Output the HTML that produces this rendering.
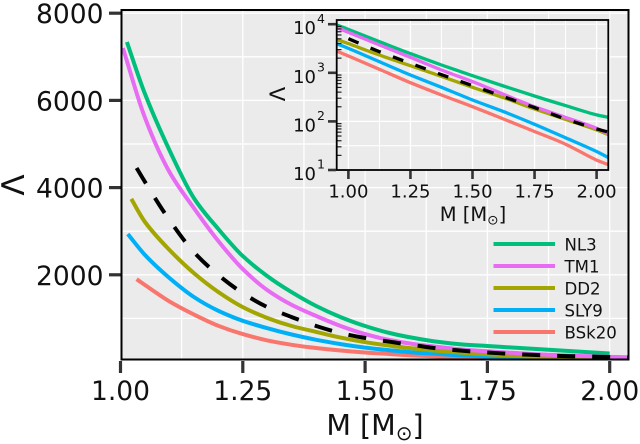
<!DOCTYPE html>
<html>
<head>
<meta charset="utf-8">
<title>Tidal deformability vs mass</title>
<style>
html,body{margin:0;padding:0;background:#fff;}
svg{display:block;}
text{font-family:"DejaVu Sans",sans-serif;fill:#111;}
</style>
</head>
<body>
<svg id="chart" width="640" height="444" viewBox="0 0 640 444" xmlns="http://www.w3.org/2000/svg">
  <defs>
    <clipPath id="main-clip"><rect x="121.5" y="10" width="507" height="349.5"/></clipPath>
    <clipPath id="inset-clip"><rect x="336.7" y="20" width="271.6" height="150"/></clipPath>
  </defs>
  <g id="main-plot"></g>
  <g id="inset-plot"></g>
  <g id="legend"></g>
</svg>
<script>
// Shared series names and colours
const seriesNames = ['NL3', 'TM1', 'DD2', 'SLY9', 'BSk20'];
const seriesColors = ['#00BF7D', '#E76BF3', '#A3A500', '#00B0F6', '#F8766D'];
const drawOrder = ['BSk20', 'SLY9', 'DD2', 'NL3', 'TM1', 'Reference'];

// Main panel data
const mainMass = [1.05, 1.10, 1.15, 1.20, 1.25, 1.30, 1.35, 1.40, 1.45, 1.50, 1.55, 1.60, 1.65, 1.70, 1.75, 1.80, 1.85, 1.90, 1.95, 2.00, 2.05];
const mainNL3 = [6150, 4860, 3760, 3050, 2430, 1970, 1600, 1285, 1030, 825, 665, 550, 460, 401, 367, 333, 298, 264, 230, 195, null];
const mainTM1 = [5600, 4360, 3530, 2775, 2130, 1650, 1310, 1055, 825, 640, 505, 410, 345, 285, 245, 210, 180, 155, 135, 118, 105];
const mainDD2 = [3210, 2570, 2040, 1605, 1260, 1010, 825, 690, 560, 455, 375, 310, 255, 213, 178, 145, 120, 100, 83, 68, 55];
const mainSLY9 = [2454, 1927, 1490, 1175, 945, 775, 630, 510, 410, 330, 270, 218, 183, 150, 126, 110, 92, 80, 69, 60, 50];
const mainBSk20 = [1766, 1390, 1090, 830, 640, 495, 395, 320, 264, 218, 183, 150, 126, 103, 92, 80, 70, 60, 50, 40, 30];
const mainReference = [4130, 3257, 2520, 1995, 1580, 1260, 1030, 825, 665, 550, 465, 385, 310, 258, 218, 183, 160, 138, 126, 115, 103];
const mainStartMass = { NL3: 1.013, TM1: 1.005, DD2: 1.022, SLY9: 1.015, BSk20: 1.033, Reference: 1.033 };
const mainStartValue = { NL3: 7340, TM1: 7200, DD2: 3740, SLY9: 2935, BSk20: 1900, Reference: 4450 };
const mainXTicks = [1.00, 1.25, 1.50, 1.75, 2.00];
const mainYTicks = [2000, 4000, 6000, 8000];

// Inset panel data
const insetMass = [0.95, 1.00, 1.125, 1.25, 1.375, 1.50, 1.625, 1.75, 1.875, 2.00, 2.05];
const insetNL3 = [9770, 7830, 4370, 2480, 1450, 873, 535, 333, 211, 136, 121];
const insetTM1 = [8630, 6810, 3730, 2080, 1140, 658, 361, 201, 121, 72, 55];
const insetDD2 = [4890, 3980, 2320, 1400, 845, 502, 308, 180, 110, 67, 53];
const insetSLY9 = [4030, 3180, 1690, 902, 502, 276, 159, 87, 46, 24, 17.7];
const insetBSk20 = [2850, 2220, 1180, 627, 349, 201, 112, 62, 34, 16, 12.7];
const insetReference = [null, 5040, 2720, 1570, 916, 544, 323, 192, 112, 70, 60];
const insetXTicks = [1.00, 1.25, 1.50, 1.75, 2.00];
const insetYTicks = [10, 100, 1000, 10000];
const insetMinorFactors = [2, 3, 4, 5, 6, 7, 8, 9];

const mainSeries = { NL3: mainNL3, TM1: mainTM1, DD2: mainDD2, SLY9: mainSLY9, BSk20: mainBSk20, Reference: mainReference };
const insetSeries = { NL3: insetNL3, TM1: insetTM1, DD2: insetDD2, SLY9: insetSLY9, BSk20: insetBSk20, Reference: insetReference };

// Axis functions
function mainX(m) { return 120.5 + (m - 1) * 489.2; }
function mainY(v) { return 362 - v * 0.0436; }
function insetX(m) { return 348.4 + (m - 1) * 248.2; }
function insetY(v) { return 170 - (Math.log10(v) - 1) * 48.6; }

const SVGNS = 'http://www.w3.org/2000/svg';
function make(parent, tag, attrs, txt) {
  const el = document.createElementNS(SVGNS, tag);
  for (const k in attrs) el.setAttribute(k, attrs[k]);
  if (txt !== undefined) el.textContent = txt;
  parent.appendChild(el);
  return el;
}
function colorOf(name) {
  const i = seriesNames.indexOf(name);
  return i < 0 ? '#000000' : seriesColors[i];
}
// Monotone cubic curve through the given pixel points
function smoothPath(pts) {
  const n = pts.length;
  const sl = [];
  for (let i = 0; i < n - 1; i++) sl.push((pts[i + 1][1] - pts[i][1]) / (pts[i + 1][0] - pts[i][0]));
  const tan = [sl[0]];
  for (let i = 1; i < n - 1; i++) {
    tan.push(sl[i - 1] * sl[i] <= 0 ? 0 : 2 * sl[i - 1] * sl[i] / (sl[i - 1] + sl[i]));
  }
  tan.push(sl[n - 2]);
  let d = 'M' + pts[0][0].toFixed(1) + ' ' + pts[0][1].toFixed(1);
  for (let i = 0; i < n - 1; i++) {
    const h = (pts[i + 1][0] - pts[i][0]) / 3;
    d += 'C' + (pts[i][0] + h).toFixed(1) + ' ' + (pts[i][1] + tan[i] * h).toFixed(1) + ' ' +
      (pts[i + 1][0] - h).toFixed(1) + ' ' + (pts[i + 1][1] - tan[i + 1] * h).toFixed(1) + ' ' +
      pts[i + 1][0].toFixed(1) + ' ' + pts[i + 1][1].toFixed(1);
  }
  return d;
}

const mainG = document.getElementById('main-plot');
const insetG = document.getElementById('inset-plot');
const legendG = document.getElementById('legend');
let el;

// ---------- Main panel ----------
el = make(mainG, 'rect', { x: 121.5, y: 10, width: 507, height: 349.5, fill: '#EBEBEB' });



const mainXStep = mainXTicks[1] - mainXTicks[0];
const mainXGrid = [];
mainXTicks.forEach(function (t) { mainXGrid.push(t); mainXGrid.push(t + mainXStep / 2); });
mainXGrid.forEach(function (t) {
  if (mainX(t) > 628) return;
  const line = make(mainG, 'line', { x1: mainX(t), x2: mainX(t), y1: 10, y2: 359.5, stroke: '#fff', 'stroke-width': 1.3 });
  
  
});
const mainYStep = mainYTicks[1] - mainYTicks[0];
const mainYGrid = [];
mainYTicks.forEach(function (t) { mainYGrid.push(t); mainYGrid.push(t - mainYStep / 2); });
mainYGrid.forEach(function (t) {
  const line = make(mainG, 'line', { x1: 121.5, x2: 628.5, y1: mainY(t), y2: mainY(t), stroke: '#fff', 'stroke-width': 1.3 });
  
  
});

const mainLines = make(mainG, 'g', { 'clip-path': 'url(#main-clip)' });


drawOrder.forEach(function (name) {
  const pts = [[mainX(mainStartMass[name]), mainY(mainStartValue[name])]];
  mainSeries[name].forEach(function (v, i) {
    if (v !== null) pts.push([mainX(mainMass[i]), mainY(v)]);
  });
  const attrs = {
    d: smoothPath(pts),
    fill: 'none', stroke: colorOf(name), 'stroke-width': 4, 'stroke-linejoin': 'round'
  };
  if (name === 'Reference') attrs['stroke-dasharray'] = '18 17';
  const line = make(mainLines, 'path', attrs);
  
  
});

el = make(mainG, 'rect', { x: 121.5, y: 10, width: 507, height: 349.5, fill: 'none', stroke: '#000', 'stroke-width': 2 });



mainXTicks.forEach(function (t) {
  const tick = make(mainG, 'line', { x1: mainX(t), x2: mainX(t), y1: 361, y2: 373, stroke: '#333', 'stroke-width': 3.2 });
  
  
  const lab = make(mainG, 'text', { x: mainX(t), y: 400, 'font-size': 26.5, 'text-anchor': 'middle' }, t.toFixed(2));
  
  
});
mainYTicks.forEach(function (t) {
  const tick = make(mainG, 'line', { x1: 109, x2: 120.5, y1: mainY(t), y2: mainY(t), stroke: '#333', 'stroke-width': 3.2 });
  
  
  const lab = make(mainG, 'text', { x: 103.5, y: mainY(t) + 10, 'font-size': 26.5, 'text-anchor': 'end' }, String(t));
  
  
});

el = make(mainG, 'text', { x: 375, y: 435, 'font-size': 28.5, 'text-anchor': 'middle' });


make(el, 'tspan', {}, 'M [M');
make(el, 'tspan', { 'font-size': 20, dy: 5 }, '\u2299');
make(el, 'tspan', { dy: -5 }, ']');

el = make(mainG, 'text', { x: 0, y: 0, 'font-size': 31, 'text-anchor': 'middle', transform: 'translate(24 185) rotate(-90)' }, '\u039B');



// ---------- Inset panel ----------
el = make(insetG, 'rect', { x: 336.7, y: 20, width: 271.6, height: 150, fill: '#EBEBEB' });



const insetXStep = insetXTicks[1] - insetXTicks[0];
const insetXGrid = [];
insetXTicks.forEach(function (t) { insetXGrid.push(t); insetXGrid.push(t + insetXStep / 2); });
insetXGrid.forEach(function (t) {
  if (insetX(t) > 608) return;
  const line = make(insetG, 'line', { x1: insetX(t), x2: insetX(t), y1: 20, y2: 170, stroke: '#fff', 'stroke-width': t * 100 % 25 === 0 ? 1.3 : 1 });
  
  
});
const insetYGrid = [];
insetYTicks.forEach(function (t) { insetYGrid.push(t); if (t > 10) insetYGrid.push(t / Math.sqrt(10)); });
insetYGrid.forEach(function (t) {
  const line = make(insetG, 'line', { x1: 336.7, x2: 608.3, y1: insetY(t), y2: insetY(t), stroke: '#fff', 'stroke-width': 1.2 });
  
  
});

const insetLines = make(insetG, 'g', { 'clip-path': 'url(#inset-clip)' });


drawOrder.forEach(function (name) {
  const pts = [];
  insetSeries[name].forEach(function (v, i) {
    if (v !== null) pts.push([insetX(insetMass[i]), insetY(v)]);
  });
  const attrs = {
    d: smoothPath(pts),
    fill: 'none', stroke: colorOf(name), 'stroke-width': 3.3, 'stroke-linejoin': 'round'
  };
  if (name === 'Reference') attrs['stroke-dasharray'] = '11 13';
  const line = make(insetLines, 'path', attrs);
  
  
});

insetYTicks.forEach(function (t) {
  if (t < 10000) {
    insetMinorFactors.forEach(function (f) {
      const m = make(insetG, 'line', { x1: 337, x2: 341.5, y1: insetY(t * f), y2: insetY(t * f), stroke: '#222', 'stroke-width': 1.2 });
      
      
    });
  }
});

el = make(insetG, 'rect', { x: 336.7, y: 20, width: 271.6, height: 150, fill: 'none', stroke: '#000', 'stroke-width': 1.8 });



insetXTicks.forEach(function (t) {
  const tick = make(insetG, 'line', { x1: insetX(t), x2: insetX(t), y1: 171, y2: 179, stroke: '#333', 'stroke-width': 2.6 });
  
  
  const lab = make(insetG, 'text', { x: insetX(t), y: 197.5, 'font-size': 18, 'text-anchor': 'middle' }, t.toFixed(2));
  
  
});
insetYTicks.forEach(function (t) {
  const y = insetY(t);
  const tick = make(insetG, 'line', { x1: 328, x2: 336, y1: y, y2: y, stroke: '#333', 'stroke-width': 2.6 });
  
  
  const base = make(insetG, 'text', { x: 316, y: y + 10, 'font-size': 18, 'text-anchor': 'end' }, '10');
  
  
  const exp = make(insetG, 'text', { x: 317, y: y - 1.3, 'font-size': 12.5 }, String(Math.round(Math.log10(t))));
  
  
});

el = make(insetG, 'text', { x: 473, y: 221, 'font-size': 19.5, 'text-anchor': 'middle' });


make(el, 'tspan', {}, 'M [M');
make(el, 'tspan', { 'font-size': 13.6, dy: 3.5 }, '\u2299');
make(el, 'tspan', { dy: -3.5 }, ']');

el = make(insetG, 'text', { x: 0, y: 0, 'font-size': 21, 'text-anchor': 'middle', transform: 'translate(285 94) rotate(-90)' }, '\u039B');



// ---------- Legend ----------
seriesNames.forEach(function (name, i) {
  const y = 244 + i * 22;
  const entry = make(legendG, 'g', {});
  
  
  const swatch = make(entry, 'line', { x1: 493.5, x2: 555, y1: y, y2: y, stroke: seriesColors[i], 'stroke-width': 4 });
  
  
  const label = make(entry, 'text', { x: 564.5, y: y + 6.3, 'font-size': 16.6 }, name);
  
  
});
</script>
</body>
</html>
